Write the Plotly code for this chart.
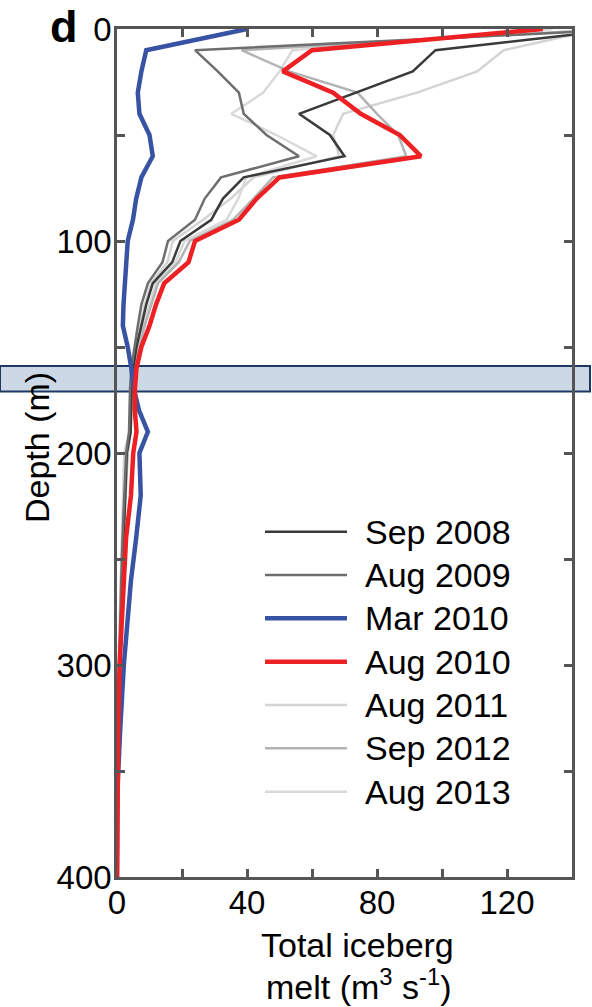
import plotly.graph_objects as go

# ---------------- data ----------------
depth = [0, 10, 20, 30, 40, 50, 60, 70, 80, 90, 100, 110, 120, 130, 140, 150,
         160, 170, 180, 190, 200, 220, 240, 260, 280, 300, 330, 360, 400]

sep2008 = [156, 98, 91, 73.5, 56, 65.5, 70, 39, 32.6, 29, 19.5, 17, 11, 9, 7.5, 6,
           5, 4.5, 4.3, 4.2, 3, 2.5, 2, 1.5, 1.1, 0.7, 0.3, 0, 0]
aug2009 = [160, 24, 31, 37.5, 39, 46, 56, 32, 27, 24, 15.7, 14, 9.5, 7.5, 6.4, 5.4,
           4.4, 4, 3.8, 3.7, 2.8, 2.2, 1.7, 1.3, 1, 0.6, 0.2, 0, 0]
mar2010 = [40, 9, 7.5, 6.4, 6.9, 10, 11, 7.5, 5.9, 4.9, 3.3, 2.8, 2.3, 2, 1.8, 3.3,
           4.4, 5.2, 6.8, 9.5, 6.9, 7.3, 5.9, 4.3, 3.2, 2.1, 1, 0.1, 0]
aug2010 = [131, 60, 51, 66.5, 75, 87, 93.5, 50, 43, 37.5, 24, 22, 14.5, 12, 10, 7.5,
           6, 5.5, 5.5, 6, 5, 4.3, 2.8, 2.1, 1.5, 0.8, 0.4, 0.1, 0]
aug2011 = [148, 119, 110.8, 92.3, 69.6, 66.5, 68.4, 42, 35, 26.5, 17.2, 15.5, 10.5, 8.5, 7, 5.8,
           4.8, 4.3, 4, 3.9, 2.2, 1.8, 1.4, 1.1, 0.8, 0.5, 0.2, 0, 0]
sep2012 = [152, 38.3, 53, 74, 80, 86.5, 89, 48, 42, 35.7, 22.4, 19, 12.6, 10.5, 8.5, 6.9,
           5.5, 4.8, 4.5, 4.2, 3.3, 2.6, 2, 1.6, 1.2, 0.8, 0.3, 0, 0]
aug2013 = [134, 54, 50, 45, 35.2, 49, 61.4, 39.8, 37.3, 33.7, 20.8, 18, 12, 10, 8, 6.5,
           5.3, 4.6, 4.2, 4, 2.5, 2, 1.6, 1.2, 0.9, 0.5, 0.2, 0, 0]

series_names = ["Sep 2008", "Aug 2009", "Mar 2010", "Aug 2010", "Aug 2011", "Sep 2012", "Aug 2013"]
series_values = [sep2008, aug2009, mar2010, aug2010, aug2011, sep2012, aug2013]
series_colors = ["#3a3a3a", "#6e6e6e", "#3953a4", "#ed2024", "#d3d4d6", "#b3b3b3", "#d8d9d9"]
series_widths = [2.5, 2.5, 4.5, 4.5, 2.5, 2.5, 2.5]
draw_order = [4, 6, 5, 0, 1, 2, 3]

band_depth = [159, 171]
x_ticks = [0, 40, 80, 120]
y_ticks = [0, 100, 200, 300, 400]

FONT = "Liberation Sans, Arial, Helvetica, sans-serif"
AX = "#555555"

fig = go.Figure()
for i in draw_order:
    fig.add_trace(go.Scatter(
        x=series_values[i], y=depth, mode="lines", name=series_names[i],
        line=dict(color=series_colors[i], width=series_widths[i]),
        showlegend=False, hoverinfo="skip"))

# plot area in pixels
L, R, T, B = 117, 572, 29, 877
W, H = 592, 1007
def px(xp):
    return (xp - L) / (R - L)
def py(yp):
    return (B - yp) / (B - T)

# shaded band
fig.add_shape(type="rect", xref="paper", yref="y", x0=px(0), x1=px(590),
              y0=band_depth[0], y1=band_depth[1], layer="below",
              fillcolor="#cdd8e6", line=dict(color="#1f3863", width=2))

# manual legend
row0, drow = 531.7, 43.33
for k in range(len(series_names)):
    yy = py(row0 + k * drow)
    fig.add_shape(type="line", xref="paper", yref="paper",
                  x0=px(265), x1=px(347), y0=yy, y1=yy,
                  line=dict(color=series_colors[k], width=series_widths[k]))
    fig.add_annotation(xref="paper", yref="paper", x=px(363), y=yy,
                       text=series_names[k], showarrow=False, xanchor="left",
                       yanchor="middle", font=dict(size=34, color="black", family=FONT))

# axis titles and panel label
fig.add_annotation(xref="paper", yref="paper", x=px(357), y=py(945),
                   text="Total iceberg", showarrow=False,
                   xanchor="center", yanchor="middle",
                   font=dict(size=34, color="black", family=FONT))
fig.add_annotation(xref="paper", yref="paper", x=px(359), y=py(984),
                   text="melt (m<sup>3</sup> s<sup>-1</sup>)", showarrow=False,
                   xanchor="center", yanchor="middle",
                   font=dict(size=34, color="black", family=FONT))
fig.add_annotation(xref="paper", yref="paper", x=px(37), y=py(448),
                   text="Depth (m)", textangle=-90, showarrow=False,
                   xanchor="center", yanchor="middle",
                   font=dict(size=34, color="black", family=FONT))
fig.add_annotation(xref="paper", yref="paper", x=px(48), y=py(54),
                   text="<b>d</b>", showarrow=False, xanchor="left", yanchor="bottom",
                   font=dict(size=45, color="black", family=FONT))

axis_common = dict(showgrid=False, zeroline=False, showline=True, linecolor=AX,
                   linewidth=2.5, mirror="ticks", ticks="inside", ticklen=8,
                   tickwidth=2.5, tickcolor=AX, automargin=False,
                   tickfont=dict(size=33, color="black", family=FONT))

fig.update_xaxes(range=[0, 140], tickvals=x_ticks, ticklabelstandoff=-5,
                 minor=dict(dtick=20, tick0=0, ticks="inside", ticklen=8,
                            tickwidth=2.5, tickcolor=AX),
                 **axis_common)
fig.update_yaxes(range=[400, 0], tickvals=y_ticks, ticklabelstandoff=-4,
                 minor=dict(dtick=50, tick0=0, ticks="inside", ticklen=8,
                            tickwidth=2.5, tickcolor=AX),
                 **axis_common)

fig.update_layout(width=W, height=H, margin=dict(l=L, r=W - R, t=T, b=H - B),
                  plot_bgcolor="white", paper_bgcolor="white",
                  font=dict(family=FONT, color="black"))

fig.write_html("out.html", config={"displayModeBar": False},
               post_script="document.body.style.margin='0';")
